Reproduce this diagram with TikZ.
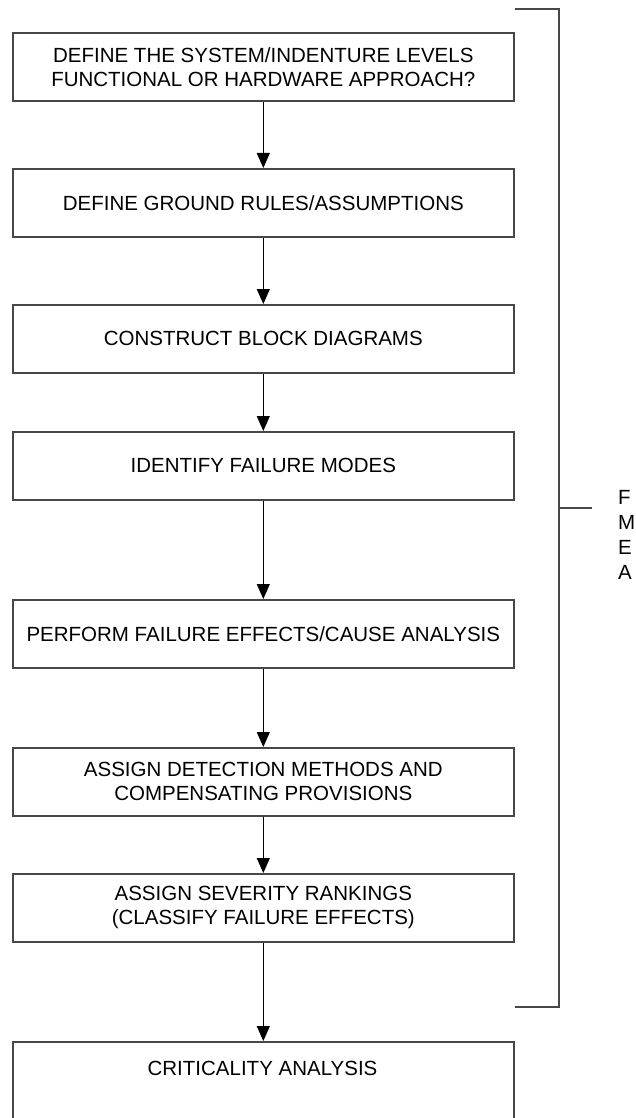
\documentclass[tikz,border=0pt]{standalone}
\usepackage{fontspec}
\setmainfont{Liberation Sans}
\usetikzlibrary{arrows.meta}
\begin{document}
\begin{tikzpicture}[x=1pt,y=-1pt,
  box/.style={draw=black!72, line width=1.6pt, minimum width=501pt, minimum height=68pt,
    inner sep=0pt, align=center, anchor=north west, font=\fontsize{20.5}{24}\selectfont},
  arr/.style={-{Triangle[length=15pt,width=13pt]}, line width=1pt},
  brk/.style={draw=black!72, line width=1.6pt},
  lbl/.style={anchor=west, inner sep=0pt, font=\fontsize{20.5}{24}\selectfont}]
\useasboundingbox (0,0) rectangle (636,1118);
\clip (0,0) rectangle (636,1118);
\node[box] (b1) at (12,32) {DEFINE THE SYSTEM/INDENTURE LEVELS\\FUNCTIONAL OR HARDWARE APPROACH?};
\node[box] (b2) at (12,168) {DEFINE GROUND RULES/ASSUMPTIONS};
\node[box] (b3) at (12,304) {CONSTRUCT BLOCK DIAGRAMS};
\node[box] (b4) at (12,431) {IDENTIFY FAILURE MODES};
\node[box] (b5) at (12,599) {PERFORM FAILURE EFFECTS/CAUSE ANALYSIS};
\node[box] (b6) at (12,747) {ASSIGN DETECTION METHODS AND\\COMPENSATING PROVISIONS};
\node[box] (b7) at (12,873) {ASSIGN SEVERITY RANKINGS\\(CLASSIFY FAILURE EFFECTS)};
\node[box, minimum height=110pt] (b8) at (12,1041) {};
\node[font=\fontsize{20.5}{24}\selectfont, inner sep=0pt] (t8) at (262.5,1068) {CRITICALITY ANALYSIS};
\foreach \a/\b in {b1/b2,b2/b3,b3/b4,b4/b5,b5/b6,b6/b7,b7/b8}
  \draw[arr] (\a.south) -- (\b.north);
\coordinate (bt) at (559,9);
\coordinate (bb) at (559,1007);
\coordinate (bm) at (559,508);
\coordinate (tk) at (592,508);
\draw[brk] (b1.east |- bt) -- (bt) -- (bb) -- (b1.east |- bb);
\draw[brk] (bm) -- (tk);
\node[lbl] (lf) at (618,497) {F};
\node[lbl] (lm) at (618,522) {M};
\node[lbl] (le) at (618,547) {E};
\node[lbl] (la) at (618,572) {A};
\end{tikzpicture}
\end{document}
